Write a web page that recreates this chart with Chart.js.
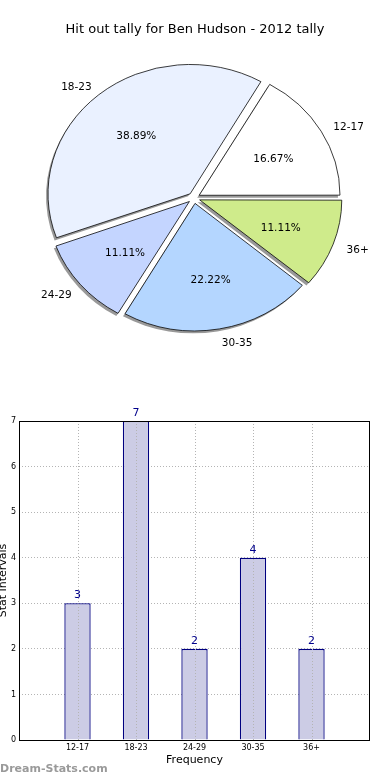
<!DOCTYPE html>
<html>
<head>
<meta charset="utf-8">
<script src="https://cdn.jsdelivr.net/npm/chart.js@4/dist/chart.umd.min.js"></script>
<style>
  body { margin: 0; background: #fff; font-family: "DejaVu Sans", sans-serif; }
  #wrap { position: relative; width: 390px; height: 780px; overflow: hidden; }
  #title { position: absolute; top: 21px; left: 0; width: 390px; text-align: center; font-size: 13px; color: #000; }
  #pie { position: absolute; top: 0; left: 0; }
  #bars { position: absolute; top: 390px; left: 0; }
  #mark { position: absolute; left: 0; top: 762px; font-size: 11px; font-weight: bold; color: #9a9a9a; }
</style>
</head>
<body>
<div id="wrap">
  <canvas id="pie" width="390" height="396"></canvas>
  <div id="title">Hit out tally for Ben Hudson - 2012 tally</div>
  <canvas id="bars" width="390" height="390"></canvas>
  <div id="mark">Dream-Stats.com</div>
</div>
<script>
const categories = ['12-17', '18-23', '24-29', '30-35', '36+'];
const values = [3, 7, 2, 4, 2];
const pieColors = ['#ffffff', '#eaf1ff', '#c4d5ff', '#b4d6ff', '#cfeb8b'];
const yTicks = [0, 1, 2, 3, 4, 5, 6, 7];

Chart.defaults.font.family = 'DejaVu Sans';
Chart.defaults.color = '#000';

// matplotlib pie axes were not square, so squash it a little
const SQUASH = 0.91;

function arcGeom(a) {
  const p = a.getProps(['x', 'y', 'startAngle', 'endAngle', 'outerRadius']);
  const mid = (p.startAngle + p.endAngle) / 2;
  const off = (a.options.offset || 0) / 4;
  const circ = p.endAngle - p.startAngle;
  const fix = 1 - Math.sin(Math.min(Math.PI, circ));
  return { x: p.x + Math.cos(mid) * off, y: p.y + Math.sin(mid) * off, mid: mid, off: off,
           r: p.outerRadius + off * fix, start: p.startAngle, end: p.endAngle, cx: p.x, cy: p.y };
}

const pieShape = {
  id: 'pieShape',
  beforeDatasetsDraw(chart) {
    const ctx = chart.ctx;
    const arcs = chart.getDatasetMeta(0).data;
    const cx = arcs[0].x, cy = arcs[0].y;
    ctx.save();
    ctx.translate(cx, cy);
    ctx.scale(1, SQUASH);
    ctx.translate(-cx, -cy);
    // shadow under each wedge
    ctx.fillStyle = 'rgba(0,0,0,0.4)';
    arcs.forEach(a => {
      const g = arcGeom(a);
      const sx = g.x - 2, sy = g.y + 2.5 / SQUASH;
      ctx.beginPath();
      ctx.moveTo(sx, sy);
      ctx.arc(sx, sy, g.r, g.start, g.end);
      ctx.closePath();
      ctx.fill();
    });
  },
  afterDatasetsDraw(chart) {
    const ctx = chart.ctx;
    ctx.restore();
    const arcs = chart.getDatasetMeta(0).data;
    const data = chart.data.datasets[0].data;
    const total = data.reduce((s, v) => s + v, 0);
    ctx.save();
    ctx.fillStyle = '#000';
    ctx.font = '10.5px "DejaVu Sans"';
    ctx.textBaseline = 'middle';
    arcs.forEach((a, i) => {
      const g = arcGeom(a);
      const c = Math.cos(g.mid), s = Math.sin(g.mid);
      // outer label
      const lx = g.cx + c * (g.off + 1.1 * g.r);
      const ly = g.cy + s * (g.off + 1.1 * g.r) * SQUASH + 2;
      ctx.textAlign = c > 0 ? 'left' : 'right';
      ctx.fillText(chart.data.labels[i], lx + (c > 0 ? 0 : 2), ly);
      // percentage
      const px = g.cx + c * (g.off + 0.6 * g.r);
      const py = g.cy + s * (g.off + 0.6 * g.r) * SQUASH + 2;
      ctx.textAlign = 'center';
      ctx.fillText((data[i] / total * 100).toFixed(2) + '%', px + 1, py);
    });
    ctx.restore();
  }
};

// pie goes counter-clockwise from 3 o'clock in the original, Chart.js goes clockwise
new Chart(document.getElementById('pie'), {
  type: 'pie',
  data: {
    labels: categories.slice().reverse(),
    datasets: [{
      data: values.slice().reverse(),
      backgroundColor: pieColors.slice().reverse(),
      borderColor: '#000',
      borderWidth: 0.8,
      offset: 24
    }]
  },
  options: {
    responsive: false,
    animation: false,
    rotation: 90,
    radius: 140,
    layout: { padding: { right: 2 } },
    plugins: { legend: { display: false }, tooltip: { enabled: false } }
  },
  plugins: [pieShape]
});

// bar chart on a linear x axis from -1 to 5, bars at 0..4 like matplotlib
const barPoints = values.map((v, i) => ({ x: i, y: v }));

const boxAndValues = {
  id: 'boxAndValues',
  afterDatasetsDraw(chart) {
    // vertical dotted grid at every category, on top of the bars
    const ctx = chart.ctx;
    const a = chart.chartArea;
    const xs = chart.scales.x;
    ctx.save();
    ctx.strokeStyle = '#b4b4b4';
    ctx.lineWidth = 1;
    ctx.setLineDash([1, 2]);
    categories.forEach((c, i) => {
      const px = Math.round(xs.getPixelForValue(i)) + 0.5;
      ctx.beginPath();
      ctx.moveTo(px, a.top);
      ctx.lineTo(px, a.bottom);
      ctx.stroke();
    });
    ctx.restore();
  },
  afterDraw(chart) {
    const ctx = chart.ctx;
    const a = chart.chartArea;
    ctx.save();
    ctx.strokeStyle = '#000';
    ctx.lineWidth = 1;
    ctx.strokeRect(Math.round(a.left) + 0.5, Math.round(a.top) + 0.5,
                   Math.round(a.right - a.left) - 1, Math.round(a.bottom - a.top));
    ctx.fillStyle = '#00008b';
    ctx.font = '11px "DejaVu Sans"';
    ctx.textAlign = 'center';
    ctx.textBaseline = 'alphabetic';
    chart.getDatasetMeta(0).data.forEach((bar, i) => {
      const v = chart.data.datasets[0].data[i].y;
      ctx.fillText(String(v), bar.x, bar.y - 5);
    });
    ctx.restore();
  }
};

new Chart(document.getElementById('bars'), {
  type: 'bar',
  data: {
    datasets: [{
      data: barPoints,
      backgroundColor: '#ccccE5',
      borderColor: '#000080',
      borderWidth: 1.3,
      barPercentage: 0.45,
      categoryPercentage: 1
    }]
  },
  options: {
    responsive: false,
    animation: false,
    layout: { padding: { top: 31, right: 20, left: 0, bottom: 0 } },
    plugins: { legend: { display: false }, tooltip: { enabled: false } },
    scales: {
      x: {
        type: 'linear',
        min: -1,
        max: categories.length,
        offset: false,
        grid: { display: false, drawTicks: false },
        border: { display: false },
        afterBuildTicks(s) {
          s.ticks = categories.map((c, i) => ({ value: i }));
        },
        ticks: {
          font: { size: 8 }, color: '#000', padding: 3, maxRotation: 0, autoSkip: false,
          callback: v => categories[v] !== undefined ? categories[v] : ''
        },
        title: { display: true, text: 'Frequency', font: { size: 11 }, color: '#000', padding: { top: 0, bottom: 13.4 } },
        afterFit(s) { s.height = 40; }
      },
      y: {
        min: yTicks[0],
        max: yTicks[yTicks.length - 1],
        z: 1,
        grid: { color: '#b4b4b4', lineWidth: 1, drawTicks: false },
        border: { display: false, dash: [1, 2] },
        ticks: { stepSize: 1, font: { size: 8 }, color: '#000', padding: 3 },
        title: { display: true, text: 'Stat Intervals', font: { size: 11 }, color: '#000', padding: { top: -3, bottom: 0 } },
        afterFit(s) { s.width = 19; }
      }
    }
  },
  plugins: [boxAndValues]
});
</script>
</body>
</html>
